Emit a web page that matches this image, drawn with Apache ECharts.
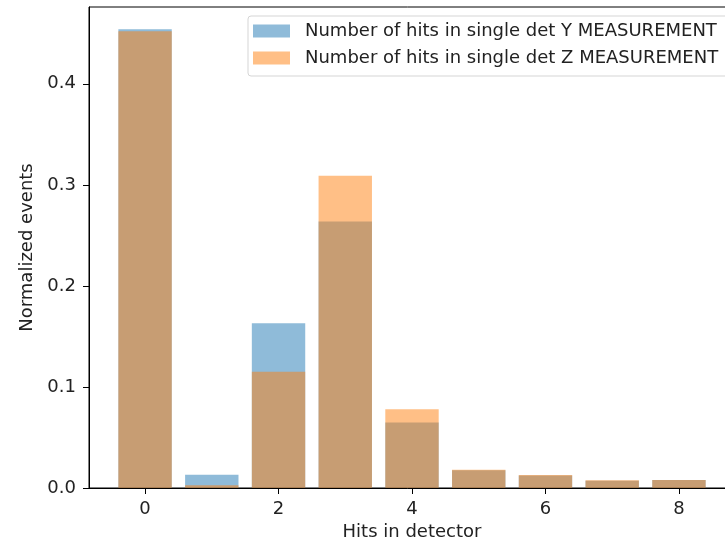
<!DOCTYPE html>
<html>
<head>
<meta charset="utf-8">
<script src="https://cdn.jsdelivr.net/npm/echarts@6/dist/echarts.min.js"></script>
<style>
  html, body { margin: 0; padding: 0; background: #fff; }
  #chart { width: 725px; height: 544px; }
</style>
</head>
<body>
<div id="chart"></div>
<script>
// hits per event in a single detector (0..8)
var hits = [0, 1, 2, 3, 4, 5, 6, 7, 8];
var yMeasurement = [0.454, 0.0132, 0.163, 0.2637, 0.0647, 0.0175, 0.0123, 0.0071, 0.0079];
var zMeasurement = [0.452, 0.0027, 0.115, 0.309, 0.078, 0.0181, 0.0129, 0.0076, 0.0079];
var xTicks = [0, 2, 4, 6, 8];
var yTicks = [0, 0.1, 0.2, 0.3, 0.4];
var seriesNames = ['Number of hits in single det Y MEASUREMENT', 'Number of hits in single det Z MEASUREMENT'];

function pairs(values) {
    return hits.map(function (h, i) { return [h, values[i]]; });
}

var font = 'DejaVu Sans';
var fontSize = 18;
var barWidth = 0.8; // in x units, like matplotlib's default

// one bar per data item, placed through the axis scales
function renderBar(params, api) {
    var x = api.value(0);
    var y = api.value(1);
    var topLeft = api.coord([x - barWidth / 2, y]);
    var bottomRight = api.coord([x + barWidth / 2, 0]);
    return {
        type: 'rect',
        shape: {
            x: topLeft[0], y: topLeft[1],
            width: bottomRight[0] - topLeft[0],
            height: bottomRight[1] - topLeft[1]
        },
        style: api.style()
    };
}

var option = {
    animation: false,
    backgroundColor: '#fff',
    textStyle: { fontFamily: font },
    grid: {
        left: 89, top: 7, width: 646, height: 481,
        outerBoundsMode: 'none', containLabel: false,
        show: true, borderColor: '#000', borderWidth: 1, backgroundColor: 'transparent'
    },
    legend: {
        orient: 'vertical',
        left: 248, top: 16,
        padding: [6, 10, 9, 5],
        itemWidth: 37, itemHeight: 13, itemGap: 9,
        icon: 'rect',
        borderColor: '#d5d5d5', borderWidth: 1, borderRadius: 3,
        backgroundColor: 'rgba(255,255,255,0.8)',
        textStyle: { fontFamily: font, fontSize: fontSize, color: '#222', lineHeight: 18, padding: [0, 0, 0, 10] },
        data: seriesNames
    },
    xAxis: {
        type: 'value', min: -0.84, max: 8.84,
        name: 'Hits in detector', nameLocation: 'middle', nameGap: 35,
        nameTextStyle: { fontFamily: font, fontSize: fontSize, color: '#222' },
        axisLine: { show: true, onZero: false, lineStyle: { color: '#000', width: 1 } },
        axisTick: { show: true, length: 6, lineStyle: { color: '#000' }, customValues: xTicks },
        axisLabel: { customValues: xTicks, margin: 12, fontFamily: font, fontSize: fontSize, color: '#222' },
        splitLine: { show: false }
    },
    yAxis: {
        type: 'value', min: 0, max: 0.476,
        name: 'Normalized events', nameLocation: 'middle', nameGap: 47,
        nameTextStyle: { fontFamily: font, fontSize: fontSize, color: '#222' },
        axisLine: { show: true, onZero: false, lineStyle: { color: '#000', width: 1 } },
        axisTick: { show: true, length: 6, lineStyle: { color: '#000' }, customValues: yTicks },
        axisLabel: {
            customValues: yTicks, margin: 13, fontFamily: font, fontSize: fontSize, color: '#222',
            formatter: function (v) { return v.toFixed(1); }
        },
        splitLine: { show: false }
    },
    series: [
        {
            name: seriesNames[0], type: 'custom', renderItem: renderBar,
            encode: { x: 0, y: 1 },
            itemStyle: { color: 'rgba(31,119,180,0.5)' },
            data: pairs(yMeasurement)
        },
        {
            name: seriesNames[1], type: 'custom', renderItem: renderBar,
            encode: { x: 0, y: 1 },
            itemStyle: { color: 'rgba(255,127,14,0.5)' },
            data: pairs(zMeasurement)
        }
    ]
};

var chart = echarts.init(document.getElementById('chart'), null, { renderer: 'canvas' });
chart.setOption(option);
</script>
</body>
</html>
